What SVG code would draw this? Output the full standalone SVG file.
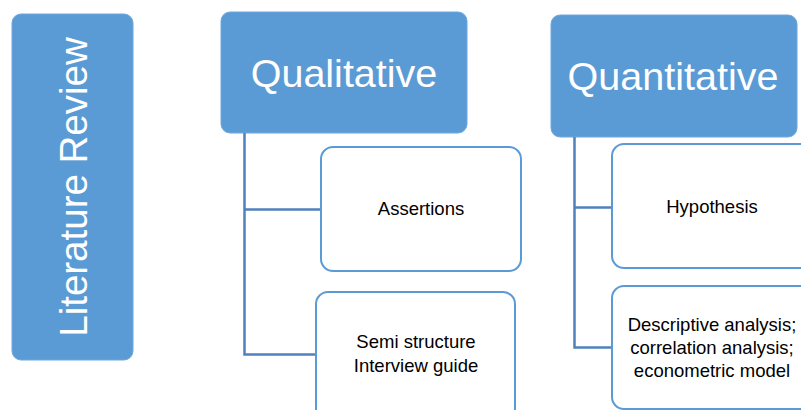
<svg xmlns="http://www.w3.org/2000/svg" width="801" height="410" viewBox="0 0 801 410">
<style>
.head{fill:#5B9BD5;stroke:#6FA8DC;stroke-width:1}
.child{fill:#FFFFFF;stroke:#5B9BD5;stroke-width:2}
.big{font-family:"Liberation Sans",Arial,sans-serif;font-size:39.5px;fill:#FFFFFF;text-anchor:middle}
.small{font-family:"Liberation Sans",Arial,sans-serif;font-size:18.5px;fill:#000000;text-anchor:middle}
.conn{fill:none;stroke:#4F81BD;stroke-width:2.5}
</style>
<rect width="801" height="410" fill="#FFFFFF"/>
<g id="literature-review">
<rect class="head" x="12" y="14" width="121" height="346" rx="9"/>
<text class="big" font-size="38.5" transform="translate(86.5,187) rotate(-90)" x="0" y="0" style="font-size:38.5px">Literature Review</text>
</g>
<g id="qualitative">
<rect class="head" x="221" y="12" width="246" height="121" rx="9"/>
<text class="big" x="344" y="87">Qualitative</text>
</g>
<g id="quantitative">
<rect class="head" x="551" y="15" width="246" height="122" rx="9"/>
<text class="big" x="673" y="90">Quantitative</text>
</g>
<g id="connectors">
<polyline class="conn" points="244.5,133 244.5,354.5 316,354.5"/>
<line class="conn" x1="244.5" y1="209.5" x2="321" y2="209.5"/>
<polyline class="conn" points="574.5,137 574.5,347.5 612,347.5"/>
<line class="conn" x1="574.5" y1="207.5" x2="612" y2="207.5"/>
</g>
<g id="assertions">
<rect class="child" x="321" y="147" width="200" height="124" rx="12"/>
<text class="small" x="421" y="215">Assertions</text>
</g>
<g id="semi-structure">
<rect class="child" x="316" y="292" width="199" height="130" rx="12"/>
<text class="small" x="416" y="348">Semi structure</text>
<text class="small" x="416" y="372">Interview guide</text>
</g>
<g id="hypothesis">
<rect class="child" x="612" y="144" width="200" height="124" rx="12"/>
<text class="small" x="712" y="213">Hypothesis</text>
</g>
<g id="descriptive">
<rect class="child" x="612" y="286" width="200" height="123" rx="12"/>
<text class="small" x="712" y="331">Descriptive analysis;</text>
<text class="small" x="712" y="354">correlation analysis;</text>
<text class="small" x="712" y="377">econometric model</text>
</g>
</svg>
